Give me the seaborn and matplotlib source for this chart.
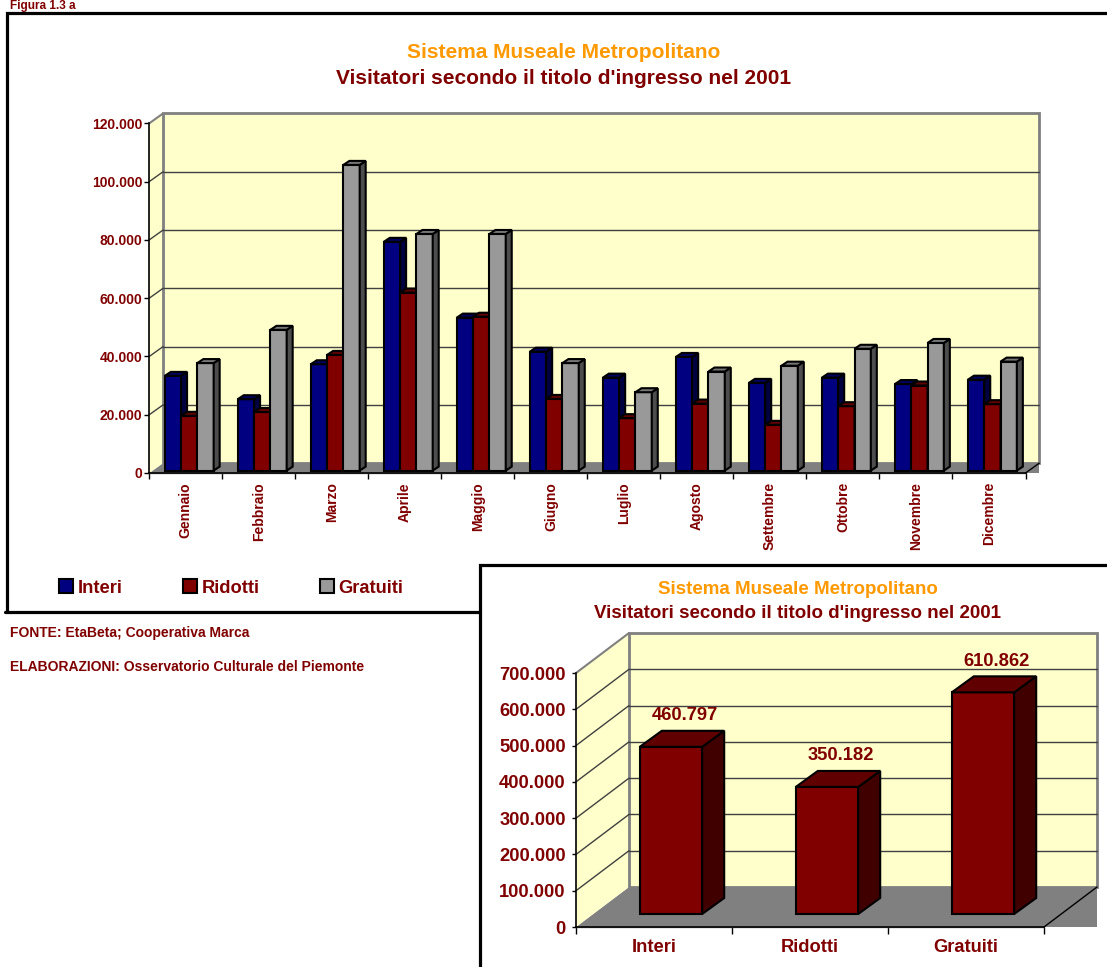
import matplotlib
matplotlib.use("Agg")
import matplotlib.pyplot as plt
from matplotlib.patches import Polygon, Patch, Rectangle
from matplotlib.ticker import FuncFormatter, FixedLocator
import numpy as np
import pandas as pd
import seaborn as sns

sns.set_style("white")
plt.rcParams["font.family"] = ["Liberation Sans", "DejaVu Sans"]
plt.rcParams["font.weight"] = "bold"

W, H = 1107, 967
DARK_RED = "#800000"
ORANGE = "#FF9900"
WALL = "#FFFFCC"
FLOOR = "#808080"
EDGE_GRAY = "#808080"
GRID = "#404040"

# --- dati --------------------------------------------------------------
mesi = ["Gennaio", "Febbraio", "Marzo", "Aprile", "Maggio", "Giugno",
        "Luglio", "Agosto", "Settembre", "Ottobre", "Novembre", "Dicembre"]
tipi = ["Interi", "Ridotti", "Gratuiti"]
interi = [32500, 24500, 36500, 78500, 52500, 40800, 31900, 39000, 30100, 31900, 29700, 31200]
ridotti = [18800, 20100, 39700, 61100, 52800, 24600, 18000, 23000, 15700, 22100, 29200, 22800]
gratuiti = [36900, 48300, 104900, 81200, 81200, 36900, 26900, 34000, 36000, 41800, 43800, 37400]
totali = [460797, 350182, 610862]

# colori: fronte, sopra, lato
shades = {
    "Interi": ("#000080", "#000060", "#000040"),
    "Ridotti": ("#800000", "#600000", "#400000"),
    "Gratuiti": ("#999999", "#777777", "#4d4d4d"),
}


def it_num(v, _=None):
    return f"{int(round(v)):,}".replace(",", ".")


def pixel_axes(fig, x0, y0, x1, y1, z):
    # x0/x1 colonne in pixel, y0 riga della base, y1 riga del valore massimo
    ax = fig.add_axes([x0 / W, 1 - y0 / H, (x1 - x0) / W, (y0 - y1) / H], zorder=z)
    ax.patch.set_visible(False)
    return ax


def px_scale(ax):
    pos = ax.get_position()
    xa, xb = ax.get_xlim()
    ya, yb = ax.get_ylim()
    return (xb - xa) / (pos.width * W), (yb - ya) / (pos.height * H)


def draw_box3d(ax, n, ymax, step, depth):
    """Pareti e pavimento in stile Excel 3D."""
    sx, sy = px_scale(ax)
    dx, dy = depth[0] * sx, depth[1] * sy
    xl, xr = -0.5, n - 0.5
    kw = dict(clip_on=False)
    ax.add_patch(Polygon([(xl, 0), (xr, 0), (xr + dx, dy), (xl + dx, dy)],
                         fc=FLOOR, ec="none", zorder=1, **kw))
    ax.add_patch(Polygon([(xl, 0), (xl + dx, dy), (xl + dx, ymax + dy), (xl, ymax)],
                         fc=WALL, ec="none", zorder=1, **kw))
    ax.add_patch(Polygon([(xl + dx, dy), (xr + dx, dy), (xr + dx, ymax + dy), (xl + dx, ymax + dy)],
                         fc=WALL, ec=EDGE_GRAY, lw=2, zorder=1.2, **kw))
    ax.add_patch(Polygon([(xl + dx, 0), (xr + dx, 0), (xr + dx, dy), (xl + dx, dy)],
                         fc=FLOOR, ec="none", zorder=1.3, **kw))
    ax.plot([xl, xr], [0, 0], color=FLOOR, lw=1, zorder=1.3, **kw)
    for v in np.arange(step, ymax, step):
        ax.plot([xl + dx, xr + dx], [v + dy, v + dy], color=GRID, lw=1, zorder=1.5, **kw)
        ax.plot([xl, xl + dx], [v, v + dy], color=GRID, lw=1, zorder=1.5, **kw)
    ax.plot([xl, xl + dx], [ymax, ymax + dy], color=EDGE_GRAY, lw=1.5, zorder=1.5, **kw)
    ax.plot([xr, xr + dx], [0, dy], color="black", lw=1, zorder=1.5, **kw)


def extrude(ax, shift, depth, colours):
    """Sposta le barre in profondità e aggiunge faccia superiore e laterale."""
    sx, sy = px_scale(ax)
    ox, oy = shift[0] * sx, shift[1] * sy
    bx, by = depth[0] * sx, depth[1] * sy
    items = []
    for cont, (_, top_c, side_c) in zip(ax.containers, colours):
        for p in cont.patches:
            items.append((p, top_c, side_c))
    items.sort(key=lambda t: t[0].get_x())
    for i, (p, top_c, side_c) in enumerate(items):
        p.set_x(p.get_x() + ox)
        p.set_y(p.get_y() + oy)
        p.set_clip_on(False)
        p.set_zorder(10 + 3 * i)
        x0, y0 = p.get_x(), p.get_y()
        x1, y1 = x0 + p.get_width(), y0 + p.get_height()
        top = Polygon([(x0, y1), (x1, y1), (x1 + bx, y1 + by), (x0 + bx, y1 + by)],
                      fc=top_c, ec="black", lw=1.5, zorder=11 + 3 * i, clip_on=False)
        side = Polygon([(x1, y0), (x1 + bx, y0 + by), (x1 + bx, y1 + by), (x1, y1)],
                       fc=side_c, ec="black", lw=1.5, zorder=11 + 3 * i, clip_on=False)
        ax.add_patch(side)
        ax.add_patch(top)
    return ox, oy, bx, by


def style_axes(ax, n, ysize, xsize, ytick_len, ypad, xtick_len, xpad, rot):
    for s in ["top", "right"]:
        ax.spines[s].set_visible(False)
    for s in ["left", "bottom"]:
        ax.spines[s].set_color("black")
        ax.spines[s].set_linewidth(1.2)
        ax.spines[s].set_zorder(2)
    ax.set_xlabel("")
    ax.set_ylabel("")
    ax.yaxis.set_major_formatter(FuncFormatter(it_num))
    ax.tick_params(axis="y", left=True, length=ytick_len, width=1, color="black",
                   pad=ypad, labelsize=ysize, labelcolor=DARK_RED)
    ax.tick_params(axis="x", which="major", length=0, pad=xpad, labelsize=xsize,
                   labelcolor=DARK_RED, labelrotation=rot)
    ax.xaxis.set_minor_locator(FixedLocator(np.arange(-0.5, n, 1.0)))
    ax.tick_params(axis="x", which="minor", bottom=True, length=xtick_len, width=1, color="black")
    for lab in ax.get_xticklabels() + ax.get_yticklabels():
        lab.set_fontweight("bold")
    if rot:
        for lab in ax.get_xticklabels():
            lab.set_va("top")
            lab.set_ha("center")


fig = plt.figure(figsize=(W / 100, H / 100), dpi=100)

# sfondo con cornici e testi
bg = fig.add_axes([0, 0, 1, 1], zorder=0)
bg.set_xlim(0, W)
bg.set_ylim(H, 0)
bg.axis("off")
bg.plot([6.5, 6.5, W + 5], [612, 13, 13], color="black", lw=2.3, solid_joinstyle="miter")
bg.plot([5, 480], [612, 612], color="black", lw=2.3)
bg.add_patch(Rectangle((479.5, 565), W, H, fc="white", ec="black", lw=2.3))
bg.text(10, 8.5, "Figura 1.3 a", color=DARK_RED, fontsize=8.5, fontweight="bold", va="baseline")
bg.text(563.5, 53, "Sistema Museale Metropolitano", color=ORANGE, fontsize=15,
        fontweight="bold", ha="center", va="center")
bg.text(563.5, 79, "Visitatori secondo il titolo d'ingresso nel 2001", color=DARK_RED,
        fontsize=15, fontweight="bold", ha="center", va="center")
bg.text(797.5, 590, "Sistema Museale Metropolitano", color=ORANGE, fontsize=13.5,
        fontweight="bold", ha="center", va="center")
bg.text(797.5, 614, "Visitatori secondo il titolo d'ingresso nel 2001", color=DARK_RED,
        fontsize=13.5, fontweight="bold", ha="center", va="center")
bg.text(10, 633, "FONTE: EtaBeta; Cooperativa Marca", color=DARK_RED, fontsize=10,
        fontweight="bold", va="center")
bg.text(10, 667, "ELABORAZIONI: Osservatorio Culturale del Piemonte", color=DARK_RED,
        fontsize=10, fontweight="bold", va="center")

# --- grafico mensile ------------------------------------------------------
df = pd.DataFrame({
    "mese": mesi * 3,
    "tipo": [t for t in tipi for _ in mesi],
    "visitatori": interi + ridotti + gratuiti,
})
ax1 = pixel_axes(fig, 149.3, 473, 1025.5, 123.3, 1)
sns.barplot(data=df, x="mese", y="visitatori", hue="tipo", order=mesi, hue_order=tipi,
            palette={t: shades[t][0] for t in tipi}, width=0.67, gap=0,
            edgecolor="black", linewidth=1.5, errorbar=None, legend=False, ax=ax1,
            saturation=1)
ax1.set_xlim(-0.5, len(mesi) - 0.5)
ax1.set_ylim(0, 120000)
ax1.set_yticks(np.arange(0, 120001, 20000))
extrude(ax1, (3.4, 2.4), (6, 4), [shades[t] for t in tipi])
draw_box3d(ax1, len(mesi), 120000, 20000, (13.7, 9.8))
style_axes(ax1, len(mesi), 10, 10, 3.6, 1.5, 4.3, 6.5, 90)

handles = [Patch(fc=shades[t][0], ec="black", lw=1.5) for t in tipi]
fig.legend(handles, tipi, loc="center", ncol=3, frameon=False,
           bbox_to_anchor=(231 / W, 1 - 588 / H), bbox_transform=fig.transFigure,
           prop={"size": 13.2, "weight": "bold"}, labelcolor=DARK_RED,
           handlelength=0.76, handleheight=0.76, handletextpad=0.25,
           columnspacing=3.3, borderpad=0, borderaxespad=0)

# --- grafico dei totali ---------------------------------------------------
ax2 = pixel_axes(fig, 576, 927, 1044, 673, 2)
sns.barplot(x=tipi, y=totali, color=shades["Ridotti"][0], width=0.4, saturation=1,
            edgecolor="black", linewidth=1.5, errorbar=None, ax=ax2)
ax2.set_xlim(-0.5, len(tipi) - 0.5)
ax2.set_ylim(0, 700000)
ax2.set_yticks(np.arange(0, 700001, 100000))
ox, oy, bx, by = extrude(ax2, (17, 13), (22, 16), [shades["Ridotti"]])
draw_box3d(ax2, len(tipi), 700000, 100000, (53, 40))
style_axes(ax2, len(tipi), 13.2, 13.2, 3, 4.3, 5, 8.6, 0)
sx, sy = px_scale(ax2)
for i, v in enumerate(totali):
    ax2.text(i + 31 * sx, v + 44 * sy, it_num(v), color=DARK_RED, fontsize=13.2,
             fontweight="bold", ha="center", va="center", zorder=50, clip_on=False)

fig.savefig("out.png", dpi=100)
